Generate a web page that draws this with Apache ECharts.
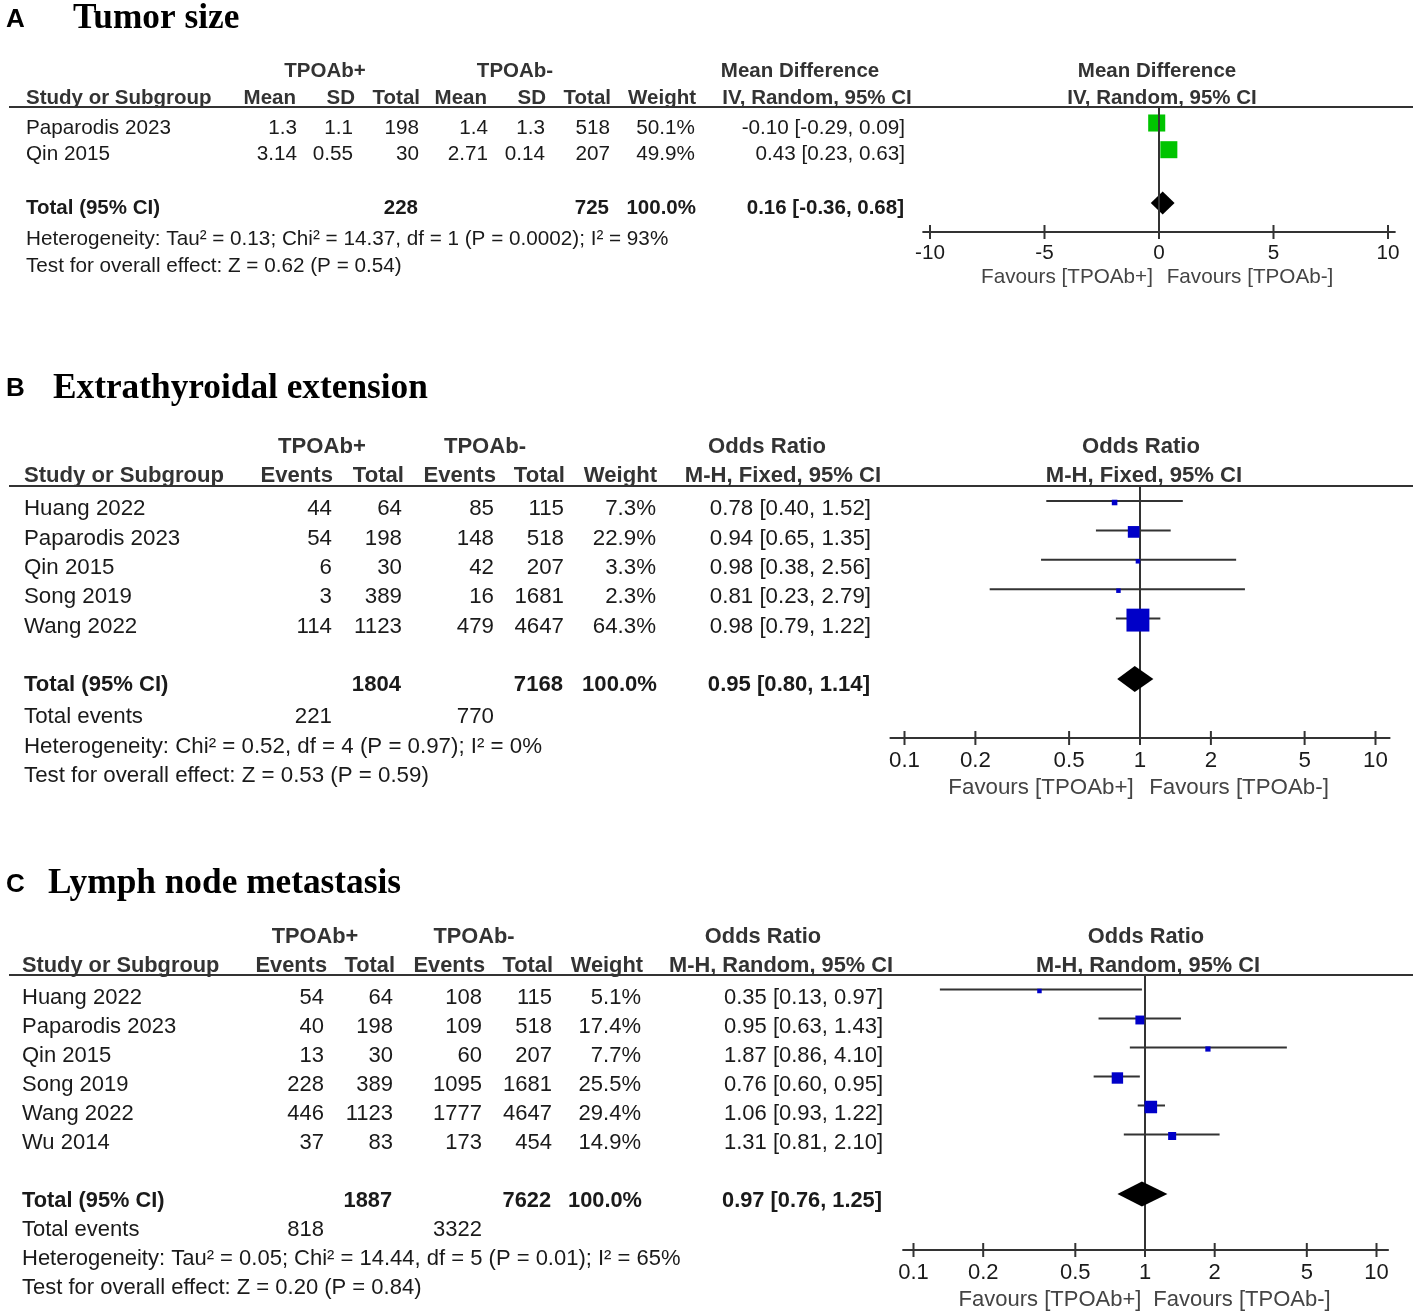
<!DOCTYPE html>
<html><head><meta charset="utf-8">
<script src="https://cdn.jsdelivr.net/npm/echarts@6/dist/echarts.min.js"></script>
<style>html,body{margin:0;padding:0;background:#fff}#c{width:1417px;height:1315px}</style>
</head><body><div id="c"></div>
<script>
// ================= DATA =================
const ticksMD = [-10, -5, 0, 5, 10];
const ticksOR = [0.1, 0.2, 0.5, 1, 2, 5, 10];

// Panel A – Tumor size (Mean Difference, IV, Random)
const studiesA  = ['Paparodis 2023', 'Qin 2015'];
const meanPosA  = [1.3, 3.14];
const sdPosA    = [1.1, 0.55];
const totalPosA = [198, 30];
const meanNegA  = [1.4, 2.71];
const sdNegA    = [1.3, 0.14];
const totalNegA = [518, 207];
const weightA   = [50.1, 49.9];
const estA      = [-0.10, 0.43];
const loA       = [-0.29, 0.23];
const hiA       = [0.09, 0.63];
const pooledA   = [0.16, -0.36, 0.68];      // est, lo, hi
const sumTotalsA = [228, 725];
const hetA  = 'Heterogeneity: Tau² = 0.13; Chi² = 14.37, df = 1 (P = 0.0002); I² = 93%';
const testA = 'Test for overall effect: Z = 0.62 (P = 0.54)';

// Panel B – Extrathyroidal extension (Odds Ratio, M-H, Fixed)
const studiesB  = ['Huang 2022', 'Paparodis 2023', 'Qin 2015', 'Song 2019', 'Wang 2022'];
const evPosB    = [44, 54, 6, 3, 114];
const totPosB   = [64, 198, 30, 389, 1123];
const evNegB    = [85, 148, 42, 16, 479];
const totNegB   = [115, 518, 207, 1681, 4647];
const weightB   = [7.3, 22.9, 3.3, 2.3, 64.3];
const estB      = [0.78, 0.94, 0.98, 0.81, 0.98];
const loB       = [0.40, 0.65, 0.38, 0.23, 0.79];
const hiB       = [1.52, 1.35, 2.56, 2.79, 1.22];
const pooledB   = [0.95, 0.80, 1.14];
const sumTotalsB = [1804, 7168];
const sumEventsB = [221, 770];
const hetB  = 'Heterogeneity: Chi² = 0.52, df = 4 (P = 0.97); I² = 0%';
const testB = 'Test for overall effect: Z = 0.53 (P = 0.59)';

// Panel C – Lymph node metastasis (Odds Ratio, M-H, Random)
const studiesC  = ['Huang 2022', 'Paparodis 2023', 'Qin 2015', 'Song 2019', 'Wang 2022', 'Wu 2014'];
const evPosC    = [54, 40, 13, 228, 446, 37];
const totPosC   = [64, 198, 30, 389, 1123, 83];
const evNegC    = [108, 109, 60, 1095, 1777, 173];
const totNegC   = [115, 518, 207, 1681, 4647, 454];
const weightC   = [5.1, 17.4, 7.7, 25.5, 29.4, 14.9];
const estC      = [0.35, 0.95, 1.87, 0.76, 1.06, 1.31];
const loC       = [0.13, 0.63, 0.86, 0.60, 0.93, 0.81];
const hiC       = [0.97, 1.43, 4.10, 0.95, 1.22, 2.10];
const pooledC   = [0.97, 0.76, 1.25];
const sumTotalsC = [1887, 7622];
const sumEventsC = [818, 3322];
const hetC  = 'Heterogeneity: Tau² = 0.05; Chi² = 14.44, df = 5 (P = 0.01); I² = 65%';
const testC = 'Test for overall effect: Z = 0.20 (P = 0.84)';

// ================= LAYOUT / STYLE =================
const SANS = '"Liberation Sans", Arial, Helvetica, sans-serif';
const SERIF = '"Liberation Serif", "Times New Roman", serif';
const f2 = v => v.toFixed(2);
const ci = a => `${f2(a[0])} [${f2(a[1])}, ${f2(a[2])}]`;
const pct = v => v.toFixed(1) + '%';

const panels = [
  {
    letter: 'A', letterY: 20, title: 'Tumor size', titleX: 73, titleY: 19, fs: 20.7, fh: 20.5,
    h1Y: 71, h2Y: 98, lineY: 107, row0: 123, rowH: 26.7, textOff: 5, totalRow: 3, axisY: 232,
    log: false, nullVal: 0, ticks: ticksMD, xLo: -10.3, xHi: 10.3, zeroPx: 1159, unitPx: 22.9,
    tickDy: 21, favY: 277, favX: [1067, 1250],
    color: '#00c400', sizeK: 1.34, diamondH: 23, lineOnTop: true,
    nameX: 26,
    h1: [['TPOAb+', 325], ['TPOAb-', 515], ['Mean Difference', 800], ['Mean Difference', 1157]],
    h2: [['Study or Subgroup', 26, 'left'], ['Mean', 296, 'right'], ['SD', 355, 'right'], ['Total', 420, 'right'],
         ['Mean', 487, 'right'], ['SD', 546, 'right'], ['Total', 611, 'right'], ['Weight', 696, 'right'],
         ['IV, Random, 95% CI', 817, 'center'], ['IV, Random, 95% CI', 1162, 'center']],
    studies: studiesA, cols: [meanPosA, sdPosA, totalPosA, meanNegA, sdNegA, totalNegA],
    colX: [297, 353, 419, 488, 545, 610], totalColIdx: [2, 5], weightX: 695, ciX: 905,
    weight: weightA, est: estA, lo: loA, hi: hiA, pooled: pooledA, sumTotals: sumTotalsA,
    sumEvents: null, eventsY: null, het: hetA, hetY: 239, test: testA, testY: 266
  },
  {
    letter: 'B', letterY: 389, title: 'Extrathyroidal extension', titleX: 53, titleY: 389, fs: 22.3, fh: 22.1,
    h1Y: 447, h2Y: 476, lineY: 486, row0: 502.5, rowH: 29.4, textOff: 6.5, totalRow: 6, axisY: 738,
    log: true, nullVal: 1, ticks: ticksOR, xLo: -1.06, xHi: 1.06, zeroPx: 1140, unitPx: 235.5,
    tickDy: 23, favY: 788, favX: [1041, 1239],
    color: '#0000c8', sizeK: 1.53, diamondH: 26, lineOnTop: false,
    nameX: 24,
    h1: [['TPOAb+', 322], ['TPOAb-', 485], ['Odds Ratio', 767], ['Odds Ratio', 1141]],
    h2: [['Study or Subgroup', 24, 'left'], ['Events', 333, 'right'], ['Total', 404, 'right'],
         ['Events', 496, 'right'], ['Total', 565, 'right'], ['Weight', 657, 'right'],
         ['M-H, Fixed, 95% CI', 783, 'center'], ['M-H, Fixed, 95% CI', 1144, 'center']],
    studies: studiesB, cols: [evPosB, totPosB, evNegB, totNegB],
    colX: [332, 402, 494, 564], totalColIdx: [1, 3], weightX: 656, ciX: 871,
    weight: weightB, est: estB, lo: loB, hi: hiB, pooled: pooledB, sumTotals: sumTotalsB,
    sumEvents: sumEventsB, eventsY: 717, het: hetB, hetY: 747, test: testB, testY: 776
  },
  {
    letter: 'C', letterY: 885, title: 'Lymph node metastasis', titleX: 48, titleY: 884, fs: 22.0, fh: 21.8,
    h1Y: 937, h2Y: 966, lineY: 975, row0: 991, rowH: 29.0, textOff: 6.5, totalRow: 7, axisY: 1250,
    log: true, nullVal: 1, ticks: ticksOR, xLo: -1.045, xHi: 1.05, zeroPx: 1145, unitPx: 231.5,
    tickDy: 23, favY: 1300, favX: [1050, 1242],
    color: '#0000c8', sizeK: 1.39, diamondH: 25, lineOnTop: false,
    nameX: 22,
    h1: [['TPOAb+', 315], ['TPOAb-', 474], ['Odds Ratio', 763], ['Odds Ratio', 1146]],
    h2: [['Study or Subgroup', 22, 'left'], ['Events', 327, 'right'], ['Total', 395, 'right'],
         ['Events', 485, 'right'], ['Total', 553, 'right'], ['Weight', 643, 'right'],
         ['M-H, Random, 95% CI', 781, 'center'], ['M-H, Random, 95% CI', 1148, 'center']],
    studies: studiesC, cols: [evPosC, totPosC, evNegC, totNegC],
    colX: [324, 393, 482, 552], totalColIdx: [1, 3], weightX: 641, ciX: 883,
    weight: weightC, est: estC, lo: loC, hi: hiC, pooled: pooledC, sumTotals: sumTotalsC,
    sumEvents: sumEventsC, eventsY: 1230, het: hetC, hetY: 1259, test: testC, testY: 1288
  }
];

// ================= BUILD =================
const grids = [], xAxes = [], yAxes = [], series = [], graphics = [];

function txt(t, x, y, o) {
  o = o || {};
  const align = o.align || 'left';
  graphics.push({
    type: 'text', x: x, y: y, silent: true, z: 10,
    style: {
      text: String(t), fill: o.color || '#1a1a1a', fontSize: o.size,
      fontWeight: o.bold ? 'bold' : 'normal', fontFamily: o.family || SANS,
      align: align, verticalAlign: 'middle', textAlign: align, textVerticalAlign: 'middle'
    }
  });
}
function hline(x1, x2, y) {
  graphics.push({ type: 'line', silent: true, z: 9, shape: { x1: x1, y1: y, x2: x2, y2: y },
    style: { stroke: '#333', lineWidth: 2 } });
}

panels.forEach((p, gi) => {
  const B = p.fs, H = p.fh;
  // titles
  txt(p.letter, 6, p.letterY, { bold: true, size: 26, color: '#000' });
  txt(p.title, p.titleX, p.titleY, { bold: true, size: 35.3, family: SERIF, color: '#000' });
  // headers
  p.h1.forEach(h => txt(h[0], h[1], p.h1Y, { bold: true, size: H, align: 'center', color: '#333' }));
  p.h2.forEach(h => txt(h[0], h[1], p.h2Y, { bold: true, size: H, align: h[2], color: '#333' }));
  hline(9, 1413, p.lineY);

  // study rows
  const ty = i => p.row0 + i * p.rowH + p.textOff;
  p.studies.forEach((s, i) => {
    txt(s, p.nameX, ty(i), { size: B });
    p.cols.forEach((col, j) => txt(String(col[i]), p.colX[j], ty(i), { size: B, align: 'right' }));
    txt(pct(p.weight[i]), p.weightX, ty(i), { size: B, align: 'right' });
    txt(ci([p.est[i], p.lo[i], p.hi[i]]), p.ciX, ty(i), { size: B, align: 'right' });
  });
  // total row
  const tY = ty(p.totalRow);
  txt('Total (95% CI)', p.nameX, tY, { bold: true, size: H });
  txt(p.sumTotals[0], p.colX[p.totalColIdx[0]] - 1, tY, { bold: true, size: H, align: 'right' });
  txt(p.sumTotals[1], p.colX[p.totalColIdx[1]] - 1, tY, { bold: true, size: H, align: 'right' });
  txt('100.0%', p.weightX + 1, tY, { bold: true, size: H, align: 'right' });
  txt(ci(p.pooled), p.ciX - 1, tY, { bold: true, size: H, align: 'right' });
  if (p.sumEvents) {
    txt('Total events', p.nameX, p.eventsY, { size: B });
    txt(p.sumEvents[0], p.colX[0], p.eventsY, { size: B, align: 'right' });
    txt(p.sumEvents[1], p.colX[2], p.eventsY, { size: B, align: 'right' });
  }
  txt(p.het, p.nameX, p.hetY, { size: B });
  txt(p.test, p.nameX, p.testY, { size: B });
  // favours labels
  txt('Favours [TPOAb+]', p.favX[0], p.favY, { size: B, align: 'center', color: '#444' });
  txt('Favours [TPOAb-]', p.favX[1], p.favY, { size: B, align: 'center', color: '#444' });

  // grid & axes (plot region)
  const left = p.zeroPx + p.xLo * p.unitPx;
  const width = (p.xHi - p.xLo) * p.unitPx;
  grids.push({ left: left, top: p.lineY, width: width, height: p.axisY - p.lineY, containLabel: false });
  xAxes.push({
    gridIndex: gi, type: p.log ? 'log' : 'value', logBase: 10,
    min: p.log ? Math.pow(10, p.xLo) : p.xLo, max: p.log ? Math.pow(10, p.xHi) : p.xHi,
    axisLine: { show: true, onZero: false, lineStyle: { color: '#333', width: 2 } },
    axisTick: { show: false }, axisLabel: { show: false }, splitLine: { show: false }
  });
  yAxes.push({
    gridIndex: gi, type: 'value', inverse: true, show: false,
    min: (p.lineY - p.row0) / p.rowH, max: (p.axisY - p.row0) / p.rowH,
    axisLine: { onZero: false }, splitLine: { show: false }
  });

  // whiskers
  series.push({
    type: 'custom', xAxisIndex: gi, yAxisIndex: gi, z: 2, silent: true,
    encode: { x: [0, 1], y: 2 },
    data: p.studies.map((s, i) => [p.lo[i], p.hi[i], i]),
    renderItem: (params, api) => {
      const a = api.coord([api.value(0), api.value(2)]);
      const b = api.coord([api.value(1), api.value(2)]);
      return { type: 'line', shape: { x1: a[0], y1: a[1] - 1.5, x2: b[0], y2: b[1] - 1.5 },
        style: { stroke: '#333', lineWidth: 2 } };
    }
  });
  // null line
  series.push({
    type: 'custom', xAxisIndex: gi, yAxisIndex: gi, z: p.lineOnTop ? 6 : 3, silent: true,
    encode: { x: 0, y: 1 }, data: [[p.nullVal, 0]],
    renderItem: (params, api) => {
      const cs = params.coordSys;
      const x = api.coord([api.value(0), 0])[0];
      return { type: 'line', shape: { x1: x, y1: cs.y, x2: x, y2: cs.y + cs.height + 6 },
        style: { stroke: '#333', lineWidth: 2 } };
    }
  });
  // study squares
  const k = p.sizeK;
  series.push({
    type: 'scatter', xAxisIndex: gi, yAxisIndex: gi, z: 4, silent: true,
    symbol: 'rect', symbolSize: v => Math.max(4.5, k * Math.pow(v[2], 0.65)),
    itemStyle: { color: p.color, opacity: 1 },
    data: p.est.map((e, i) => [e, i, p.weight[i]])
  });
  // pooled diamond
  const dh = p.diamondH;
  series.push({
    type: 'custom', xAxisIndex: gi, yAxisIndex: gi, z: 4, silent: true,
    encode: { x: [0, 1, 2], y: 3 },
    data: [[p.pooled[0], p.pooled[1], p.pooled[2], p.totalRow]],
    renderItem: (params, api) => {
      const r = api.value(3);
      const c = api.coord([api.value(0), r]);
      const l = api.coord([api.value(1), r]);
      const h = api.coord([api.value(2), r]);
      return { type: 'polygon', shape: { points: [[l[0], c[1]], [c[0], c[1] - dh / 2], [h[0], c[1]], [c[0], c[1] + dh / 2]] },
        style: { fill: '#000' } };
    }
  });
  // axis ticks & labels
  const tdy = p.tickDy;
  series.push({
    type: 'custom', xAxisIndex: gi, yAxisIndex: gi, z: 5, silent: true,
    encode: { x: 0, y: 1 }, data: p.ticks.map(v => [v, 0]),
    renderItem: (params, api) => {
      const cs = params.coordSys;
      const x = api.coord([api.value(0), 0])[0];
      const yb = cs.y + cs.height;
      return { type: 'group', children: [
        { type: 'line', shape: { x1: x, y1: yb - 7, x2: x, y2: yb + 7 }, style: { stroke: '#333', lineWidth: 2 } },
        { type: 'text', x: x, y: yb + tdy, style: { text: String(api.value(0)), fill: '#1a1a1a', fontSize: B,
          fontFamily: SANS, align: 'center', verticalAlign: 'middle' } }
      ] };
    }
  });
});

const chart = echarts.init(document.getElementById('c'), null, { renderer: 'canvas' });
chart.setOption({
  backgroundColor: '#fff',
  animation: false,
  grid: grids, xAxis: xAxes, yAxis: yAxes, series: series,
  graphic: { elements: graphics }
});
</script></body></html>
